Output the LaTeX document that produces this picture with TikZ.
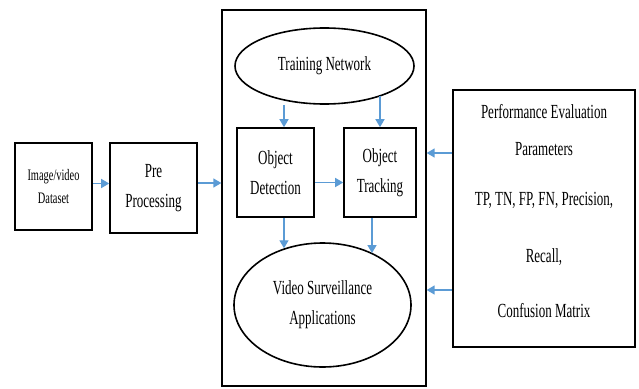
\documentclass[tikz,border=0pt]{standalone}
\usepackage{fontspec}
\setmainfont[FakeStretch=0.65]{Liberation Serif}
\usetikzlibrary{arrows.meta}
\usetikzlibrary{shapes.geometric}

\definecolor{flowblue}{RGB}{91,155,213}

\begin{document}
\begin{tikzpicture}[x=1pt,y=-1pt,
    box/.style={draw=black, line width=1.6pt, fill=white, inner sep=0pt, align=center,
                font=\fontsize{20}{24}\selectfont},
    oval/.style={ellipse, draw=black, line width=1.6pt, inner sep=0pt, align=center,
                font=\fontsize{20}{24}\selectfont},
    flow/.style={draw=flowblue, line width=1.4pt, -{Triangle[length=8pt,width=9pt]}}]

    \useasboundingbox (0,0) rectangle (639,388);

    % outer frame
    \node[box, line width=1.3pt, minimum width=204pt, minimum height=376pt] (main) at (324,198) {};

    % input side
    \node[box, minimum width=77pt, minimum height=87pt, font=\fontsize{16}{19}\selectfont] (data) at (53.5,186.5) {Image/video\\[4pt]Dataset};
    \node[box, minimum width=87pt, minimum height=90pt] (pre) at (153.5,188) {Pre\\[6pt]Processing};

    % inside the frame
    \node[oval, minimum width=179pt, minimum height=76pt] (train) at (324.5,66) {Training Network};
    \node[box, minimum width=77pt, minimum height=89pt] (detect) at (275.5,172.5) {Object\\[6pt]Detection};
    \node[box, minimum width=72pt, minimum height=89pt] (track) at (380,172.5) {Object\\[6pt]Tracking};
    \node[oval, minimum width=177pt, minimum height=124pt] (apps) at (322.5,305) {Video Surveillance\\[6pt]Applications};

    % parameters
    \node[box, minimum width=182pt, minimum height=257pt] (perf) at (544,218.5)
      {Performance Evaluation\\[13pt]Parameters\\[26pt]TP, TN, FP, FN, Precision,\\[33pt]Recall,\\[31pt]Confusion Matrix\\[-8pt]\mbox{}};

    % arrows
    \draw[flow] ([yshift=3pt]data.east) -- ([yshift=3pt]data.east -| pre.west);
    \draw[flow] ([yshift=5pt]pre.east) -- ([yshift=5pt]pre.east -| main.west);
    \draw[flow] ([xshift=8.5pt]detect.north |- train.south) -- ([xshift=8.5pt]detect.north);
    \draw[flow] (track.north |- train.-28) -- (track.north);
    \draw[flow] ([yshift=-10pt]detect.east) -- ([yshift=-10pt]track.west);
    \draw[flow] ([xshift=8.5pt]detect.south) -- ([xshift=8.5pt]detect.south |- apps.124.5);
    \draw[flow] ([xshift=-8pt]track.south) -- ([xshift=-8pt]track.south |- apps.46);
    \draw[flow] ([yshift=65.5pt]perf.west) -- ([yshift=65.5pt]perf.west -| main.east);
    \draw[flow] ([yshift=-71.5pt]perf.west) -- ([yshift=-71.5pt]perf.west -| main.east);
\end{tikzpicture}
\end{document}
